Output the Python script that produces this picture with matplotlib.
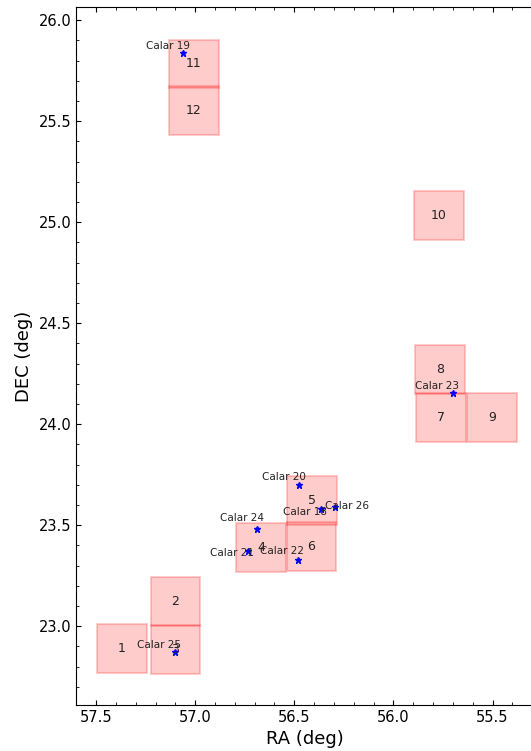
import matplotlib
matplotlib.use('Agg')
import matplotlib.pyplot as plt
from matplotlib.patches import Rectangle
from matplotlib.ticker import AutoMinorLocator

# Field centres (RA, DEC in deg), numbered 1..12
field_ids = ['1', '2', '3', '4', '5', '6', '7', '8', '9', '10', '11', '12']
field_ra = [57.369, 57.100, 57.100, 56.667, 56.410, 56.413,
            55.760, 55.765, 55.502, 55.771, 57.007, 57.007]
field_dec = [22.891, 23.124, 22.886, 23.389, 23.623, 23.394,
             24.031, 24.269, 24.031, 25.032, 25.783, 25.552]

# Calar sources
calar_names = ['Calar 19', 'Calar 23', 'Calar 20', 'Calar 18', 'Calar 26',
               'Calar 24', 'Calar 21', 'Calar 22', 'Calar 25']
calar_ra = [57.060, 55.699, 56.475, 56.367, 56.297, 56.687, 56.735, 56.483, 57.102]
calar_dec = [25.838, 24.152, 23.701, 23.578, 23.588, 23.482, 23.371, 23.330, 22.873]

# label offsets (deg) relative to each source
label_dra = [0.19, 0.19, 0.19, 0.19, 0.049, 0.19, 0.19, 0.19, 0.19]
label_ddec = [0.033, 0.036, 0.035, -0.013, 0.005, 0.053, -0.011, 0.04, 0.033]

box_w = 0.25
box_h = 0.242

fig = plt.figure(figsize=(5.31, 7.51), dpi=100)
# right edge of the axes falls just outside the figure, as in the original crop
ax = fig.add_axes([0.1435, 0.0613, 0.8625, 0.9294])

for fid, ra, dec in zip(field_ids, field_ra, field_dec):
    ax.add_patch(Rectangle((ra - box_w / 2, dec - box_h / 2), box_w, box_h,
                           color='red', alpha=0.2, lw=1.5))
    ax.text(ra, dec, fid, ha='center', va='center', fontsize=9, color='#222222')

ax.plot(calar_ra, calar_dec, '*', color='blue', markersize=5, linestyle='none')
for name, ra, dec, dra, ddec in zip(calar_names, calar_ra, calar_dec, label_dra, label_ddec):
    ax.text(ra + dra, dec + ddec, name, ha='left', va='center', fontsize=7.5, color='#222222')

ax.set_xlim(57.6, 55.29)
ax.set_ylim(22.61, 26.065)
ax.xaxis.set_minor_locator(AutoMinorLocator(5))
ax.yaxis.set_minor_locator(AutoMinorLocator(5))
ax.tick_params(which='both', direction='in', top=True, right=False, labelsize=10.5)
ax.set_xlabel('RA (deg)', fontsize=13)
ax.set_ylabel('DEC (deg)', fontsize=13)

fig.savefig('out.png', dpi=100)
